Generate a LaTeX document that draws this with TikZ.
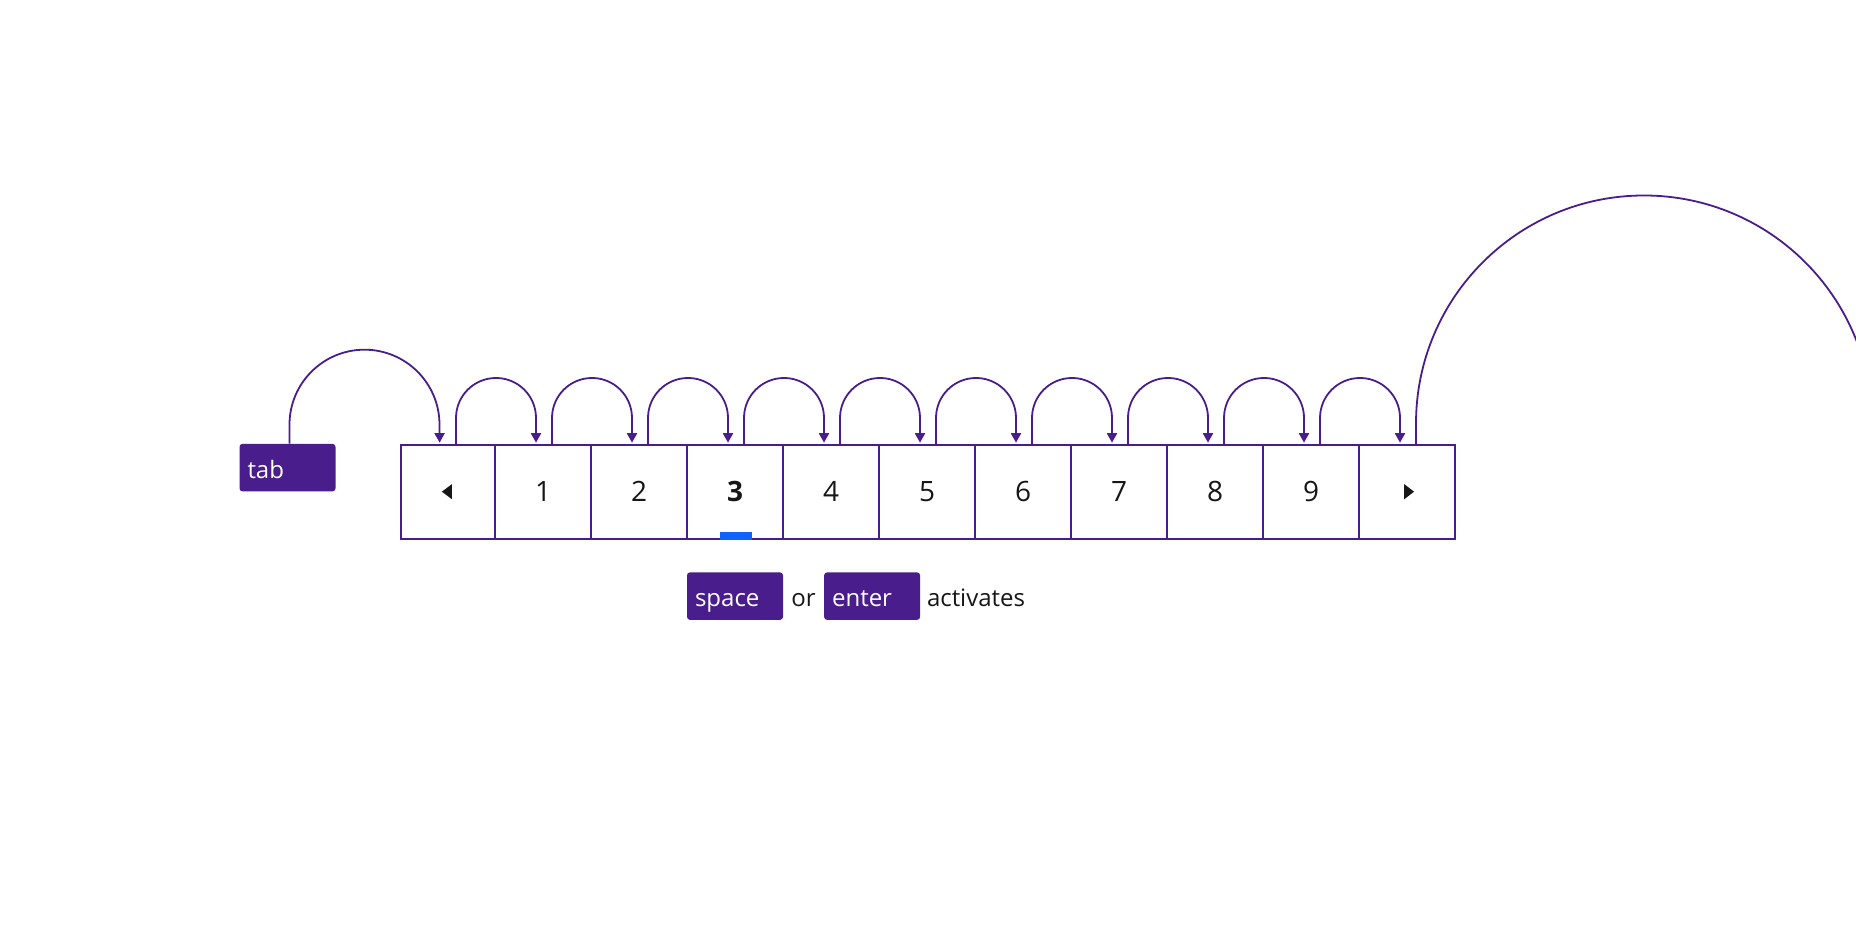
\documentclass[tikz,border=0pt]{standalone}
\usepackage{fontspec}
\setmainfont{Open Sans}
\usepackage{xcolor}
\usepackage{tikz}
\usetikzlibrary{positioning,arrows.meta}

\definecolor{plum}{HTML}{491D8B}
\definecolor{ink}{HTML}{161616}
\definecolor{focus}{HTML}{0F62FE}

\begin{document}
\begin{tikzpicture}[x=1pt,y=1pt,
    cell/.style={draw=plum, line width=2pt, minimum width=96pt, minimum height=94pt,
      inner sep=0pt, outer sep=0pt, text=ink, font=\fontsize{28}{32}\selectfont},
    key/.style={fill=plum, rounded corners=3pt, text=white, text width=80pt, inner xsep=8pt,
      minimum height=47.5pt, align=left, text height=21pt, text depth=0pt,
      font=\fontsize{24}{28}\selectfont},
    word/.style={text=ink, inner sep=0pt, text height=21pt, text depth=0pt,
      font=\fontsize{24}{28}\selectfont},
    hop/.style={draw=plum, line width=1.8pt},
    tip/.style={-{Triangle[length=9.5pt,width=10pt]}, shorten >=2pt}]
  \useasboundingbox (0,0) rectangle (1856,928);

  \node[cell, minimum width=94.3pt] (c0) at (447.85,436.3) {};
  \foreach \lbl [count=\n] in {1,2,\textbf{3},4,5,6,7,8,9,{}}
    \node[cell] (c\n) at ({447+96*\n},436.3) {\lbl};

  \fill[ink] (c0.center) ++(4,7.5) -- ++(0,-15) -- ++(-10,7.5) -- cycle;
  \fill[ink] (c10.center) ++(-3,7.75) -- ++(0,-15.5) -- ++(10,7.75) -- cycle;
  \fill[focus] ([xshift=-15pt,yshift=-1pt]c3.south) rectangle ([xshift=17pt,yshift=6.5pt]c3.south);

  \node[key, anchor=north east] (tab) at ([xshift=-65pt,yshift=1pt]c0.north west) {tab};
  \node[key, below=33.5pt of c3] (space) {space};
  \node[word, right=8pt of space] (or) {or};
  \node[key, right=8pt of or] (enter) {enter};
  \node[word, right=6.5pt of enter] (act) {activates};

  \draw[hop, tip] ([xshift=2pt]tab.north) -- ++(0,19)
    arc[start angle=180, end angle=0, radius=75pt] -- ([xshift=39pt]c0.north west);
  \foreach \i [evaluate=\i as \j using int(\i+1)] in {0,...,9}
    \draw[hop, tip] ([xshift=-39pt]c\i.north east) -- ++(0,26.7)
      arc[start angle=180, end angle=0, radius=40pt] -- ([xshift=41pt]c\j.north west);
  \draw[hop] ([xshift=-39pt]c10.north east) -- ++(0,21.2)
    arc[start angle=180, end angle=0, radius=228pt];
\end{tikzpicture}
\end{document}
